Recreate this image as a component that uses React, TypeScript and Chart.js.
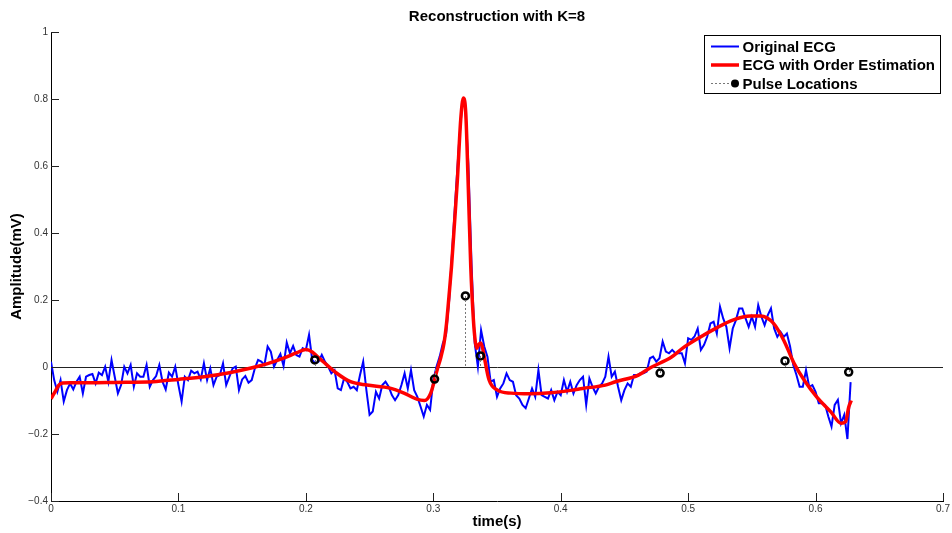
import React, { useEffect, useRef } from "react";
import { Chart, registerables } from "chart.js";

Chart.register(...registerables);

// ---- Data ----
const ecgStart = 0;
const ecgStep = 0.0025;
const ecgValues = [
  0.016, -0.039, -0.074, -0.039, -0.103, -0.069, -0.049, -0.067, -0.044, -0.029,
  -0.079, -0.029, -0.024, -0.021, -0.049, -0.017, -0.024, 0.001, -0.044, 0.021,
  -0.029, -0.079, -0.054, 0.001, -0.019, 0.006, -0.059, -0.019, -0.029, -0.029,
  0.006, -0.059, -0.039, -0.027, 0.006, -0.044, -0.067, -0.017, -0.029, 0.001,
  -0.054, -0.103, -0.029, -0.039, -0.011, -0.019, -0.014, -0.037, 0.011, -0.039,
  -0.004, -0.054, -0.029, -0.024, 0.011, -0.054, -0.029, -0.004, 0.001, -0.069,
  -0.037, -0.027, -0.047, -0.039, -0.004, 0.021, 0.016, 0.006, 0.061, 0.046,
  0.001, 0.021, 0.039, 0.003, 0.073, 0.041, 0.063, 0.036, 0.031, 0.056,
  0.051, 0.096, 0.021, 0.011, 0.016, 0.036, 0.016, 0.001, -0.019, -0.009,
  -0.064, -0.069, -0.034, -0.044, -0.064, -0.059, -0.069, -0.024, 0.016, -0.069,
  -0.143, -0.133, -0.074, -0.094, -0.054, -0.044, -0.059, -0.084, -0.099, -0.084,
  -0.054, -0.019, -0.064, -0.009, -0.069, -0.089, -0.118, -0.148, -0.113, -0.128,
  -0.039, 0.001, 0.031, 0.071, 0.096, 0.2, 0.359, 0.51, 0.658, 0.777,
  0.787, 0.608, 0.309, 0.071, 0.001, 0.11, 0.061, 0.031, -0.044, -0.039,
  -0.089, -0.064, -0.049, -0.019, -0.039, -0.044, -0.084, -0.094, -0.113, -0.123,
  -0.094, -0.064, -0.089, -0.009, -0.084, -0.089, -0.094, -0.069, -0.099, -0.074,
  -0.084, -0.039, -0.074, -0.044, -0.079, -0.054, -0.039, -0.029, -0.113, -0.034,
  -0.059, -0.079, -0.059, -0.049, -0.029, 0.031, -0.029, -0.014, -0.059, -0.099,
  -0.069, -0.049, -0.059, -0.024, -0.024, -0.019, -0.019, -0.014, 0.026, 0.031,
  0.016, 0.026, 0.076, 0.046, 0.041, 0.051, 0.041, 0.041, 0.041, 0.011,
  0.086, 0.081, 0.091, 0.115, 0.051, 0.066, 0.091, 0.13, 0.135, 0.1,
  0.18, 0.145, 0.12, 0.056, 0.115, 0.14, 0.175, 0.175, 0.146, 0.12,
  0.15, 0.12, 0.185, 0.15, 0.125, 0.155, 0.175, 0.115, 0.09, 0.105,
  0.09, 0.1, 0.061, 0.006, -0.024, -0.059, -0.059, -0.009, -0.059, -0.054,
  -0.074, -0.108, -0.108, -0.113, -0.148, -0.178, -0.113, -0.098, -0.168, -0.143,
  -0.215, -0.045,
];

const fitTimes = [
  0, 0.003, 0.006, 0.009, 0.015, 0.03, 0.05, 0.08, 0.1, 0.12,
  0.14, 0.157, 0.17, 0.183, 0.193, 0.2, 0.205, 0.209, 0.216, 0.224,
  0.235, 0.248, 0.266, 0.277, 0.287, 0.293, 0.298, 0.303, 0.306, 0.3084,
  0.3104, 0.3123, 0.3143, 0.3163, 0.3189, 0.3215, 0.3236, 0.3255, 0.3273, 0.3294,
  0.3315, 0.333, 0.3341, 0.3358, 0.3373, 0.3388, 0.34, 0.3438, 0.3504, 0.361,
  0.376, 0.392, 0.409, 0.417, 0.435, 0.443, 0.461, 0.47, 0.487, 0.496,
  0.509, 0.522, 0.535, 0.549, 0.557, 0.567, 0.575, 0.583, 0.591, 0.601,
  0.612, 0.62, 0.6236, 0.626, 0.628,
];
const fitValues = [
  -0.095, -0.075, -0.055, -0.048, -0.047, -0.047, -0.046, -0.044, -0.037, -0.029,
  -0.017, -0.003, 0.01, 0.027, 0.043, 0.052, 0.045, 0.031, 0.008, -0.018,
  -0.044, -0.054, -0.063, -0.078, -0.096, -0.1, -0.078, -0.009, 0.03, 0.071,
  0.13, 0.21, 0.3, 0.41, 0.558, 0.737, 0.803, 0.757, 0.558, 0.3,
  0.14, 0.075, 0.055, 0.068, 0.072, 0.055, 0.03, -0.039, -0.069, -0.078,
  -0.08, -0.077, -0.069, -0.064, -0.054, -0.044, -0.024, -0.003, 0.03, 0.057,
  0.088, 0.116, 0.14, 0.152, 0.152, 0.13, 0.08, 0.012, -0.039, -0.09,
  -0.134, -0.168, -0.163, -0.12, -0.1,
];

const pulseTimes = [0.207, 0.301, 0.3252, 0.337, 0.478, 0.576, 0.626];
const pulseValues = [0.021, -0.036, 0.212, 0.033, -0.018, 0.018, -0.015];

const titleText = "Reconstruction with K=8";
const xLabel = "time(s)";
const yLabel = "Amplitude(mV)";
const legendLabels = ["Original ECG", "ECG with Order Estimation", "Pulse Locations"];
const xMin = 0, xMax = 0.7, xStep = 0.1;
const yMin = -0.4, yMax = 1, yStep = 0.2;

const FONT = "'Liberation Sans', Arial, Helvetica, sans-serif";

function fmt(v: number): string {
  const n = Math.round(v * 10) / 10;
  if (n === 0) return "0";
  return n < 0 ? "\u2212" + String(Math.abs(n)) : String(n);
}

const decorPlugin = {
  id: "decor",
  afterDatasetsDraw(chart: any) {
    const ctx = chart.ctx;
    const xs = chart.scales.x;
    const ys = chart.scales.y;
    const y0 = ys.getPixelForValue(0);
    ctx.save();
    ctx.strokeStyle = "#777";
    ctx.lineWidth = 1;
    ctx.setLineDash([2, 2]);
    pulseTimes.forEach((t, i) => {
      const px = Math.round(xs.getPixelForValue(t)) + 0.5;
      const py = ys.getPixelForValue(pulseValues[i]);
      ctx.beginPath();
      ctx.moveTo(px, py);
      ctx.lineTo(px, y0);
      ctx.stroke();
    });
    ctx.restore();
  },
  afterDraw(chart: any) {
    const ctx = chart.ctx;
    const area = chart.chartArea;
    const xs = chart.scales.x;
    const ys = chart.scales.y;
    ctx.save();
    // inward ticks
    ctx.strokeStyle = "#222";
    ctx.lineWidth = 1;
    xs.ticks.forEach((tk: any) => {
      const px = Math.round(xs.getPixelForValue(tk.value)) + 0.5;
      ctx.beginPath();
      ctx.moveTo(px, area.bottom);
      ctx.lineTo(px, area.bottom - 8);
      ctx.stroke();
    });
    ys.ticks.forEach((tk: any) => {
      const py = Math.round(ys.getPixelForValue(tk.value)) + 0.5;
      ctx.beginPath();
      ctx.moveTo(area.left, py);
      ctx.lineTo(area.left + 8, py);
      ctx.stroke();
    });
    // title
    ctx.fillStyle = "#000";
    ctx.font = "bold 15px " + FONT;
    ctx.textAlign = "center";
    ctx.textBaseline = "middle";
    ctx.fillText(titleText, (area.left + area.right) / 2, 17);

    // legend
    const bw = 236, bh = 58;
    const bx = Math.round(area.right - 3 - bw) + 0.5;
    const by = Math.round(area.top + 3) + 0.5;
    ctx.fillStyle = "#fff";
    ctx.fillRect(bx, by, bw, bh);
    ctx.strokeStyle = "#000";
    ctx.lineWidth = 1;
    ctx.strokeRect(bx, by, bw, bh);
    const rows = [by + 11, by + 29.5, by + 48];
    const lx0 = bx + 6.5, lx1 = bx + 34.5, tx = bx + 38;
    // row 1
    ctx.strokeStyle = "#0000ff";
    ctx.lineWidth = 2;
    ctx.beginPath(); ctx.moveTo(lx0, rows[0]); ctx.lineTo(lx1, rows[0]); ctx.stroke();
    // row 2
    ctx.strokeStyle = "#ff0000";
    ctx.lineWidth = 3.5;
    ctx.beginPath(); ctx.moveTo(lx0, rows[1]); ctx.lineTo(lx1, rows[1]); ctx.stroke();
    // row 3
    ctx.strokeStyle = "#777";
    ctx.lineWidth = 1;
    ctx.setLineDash([2, 2]);
    ctx.beginPath(); ctx.moveTo(lx0, rows[2]); ctx.lineTo(lx1 - 8, rows[2]); ctx.stroke();
    ctx.setLineDash([]);
    ctx.fillStyle = "#000";
    ctx.beginPath(); ctx.arc(lx1 - 4, rows[2], 4, 0, Math.PI * 2); ctx.fill();
    ctx.fillStyle = "#000";
    ctx.font = "bold 15px " + FONT;
    ctx.textAlign = "left";
    ctx.textBaseline = "middle";
    legendLabels.forEach((lab, i) => ctx.fillText(lab, tx, rows[i] + 1));
    ctx.restore();
  },
};

export default function App() {
  const ref = useRef<HTMLCanvasElement | null>(null);
  useEffect(() => {
    if (!ref.current) return;
    const ecgPoints = ecgValues.map((v, i) => ({ x: ecgStart + i * ecgStep, y: v }));
    const fitPoints = fitTimes.map((t, i) => ({ x: t, y: fitValues[i] }));
    const pulsePoints = pulseTimes.map((t, i) => ({ x: t, y: pulseValues[i] }));
    const chart = new Chart(ref.current, {
      type: "scatter",
      data: {
        datasets: [
          {
            label: legendLabels[2],
            data: pulsePoints,
            showLine: false,
            pointRadius: 3.5,
            pointBorderWidth: 2.5,
            pointBorderColor: "#000",
            pointBackgroundColor: "rgba(255,255,255,0)",
            order: 1,
          },
          {
            label: legendLabels[1],
            data: fitPoints,
            showLine: true,
            borderColor: "#ff0000",
            borderWidth: 3.5,
            pointRadius: 0,
            cubicInterpolationMode: "monotone",
            order: 2,
          },
          {
            label: legendLabels[0],
            data: ecgPoints,
            showLine: true,
            borderColor: "#0000ff",
            borderWidth: 2,
            pointRadius: 0,
            tension: 0,
            order: 3,
          },
        ],
      },
      options: {
        animation: false,
        responsive: false,
        events: [],
        layout: { padding: { top: 32, right: 9, left: 0, bottom: 0 } },
        plugins: { legend: { display: false }, tooltip: { enabled: false }, title: { display: false } },
        scales: {
          x: {
            type: "linear",
            min: xMin,
            max: xMax,
            ticks: {
              stepSize: xStep,
              callback: (v: any) => fmt(Number(v)),
              color: "#333",
              font: { family: FONT, size: 10 },
              padding: 2,
              maxRotation: 0,
            },
            grid: { display: false, drawTicks: false },
            border: { display: true, color: "#000", width: 1 },
            title: {
              display: true,
              text: xLabel,
              color: "#000",
              font: { family: FONT, size: 15, weight: "bold" },
              padding: { top: 0, bottom: 2 },
            },
            afterFit: (s: any) => { s.height = 32; },
          },
          y: {
            type: "linear",
            min: yMin,
            max: yMax,
            ticks: {
              stepSize: yStep,
              callback: (v: any) => fmt(Number(v)),
              color: "#333",
              font: { family: FONT, size: 10 },
              padding: 3,
            },
            grid: {
              display: true,
              drawTicks: false,
              color: (c: any) => (c.tick && Math.abs(c.tick.value) < 1e-9 ? "#222" : "rgba(0,0,0,0)"),
              lineWidth: 1,
            },
            border: { display: true, color: "#000", width: 1 },
            title: {
              display: true,
              text: yLabel,
              color: "#000",
              font: { family: FONT, size: 15, weight: "bold" },
              padding: { top: 8, bottom: 0 },
            },
            afterFit: (s: any) => { s.width = 51; },
          },
        },
      },
      plugins: [decorPlugin],
    } as any);
    return () => chart.destroy();
  }, []);
  return (
    <div style={{ position: "fixed", left: 0, top: 0, width: 952, height: 533, background: "#fff" }}>
      <canvas ref={ref} width={952} height={533} style={{ display: "block" }} />
    </div>
  );
}
